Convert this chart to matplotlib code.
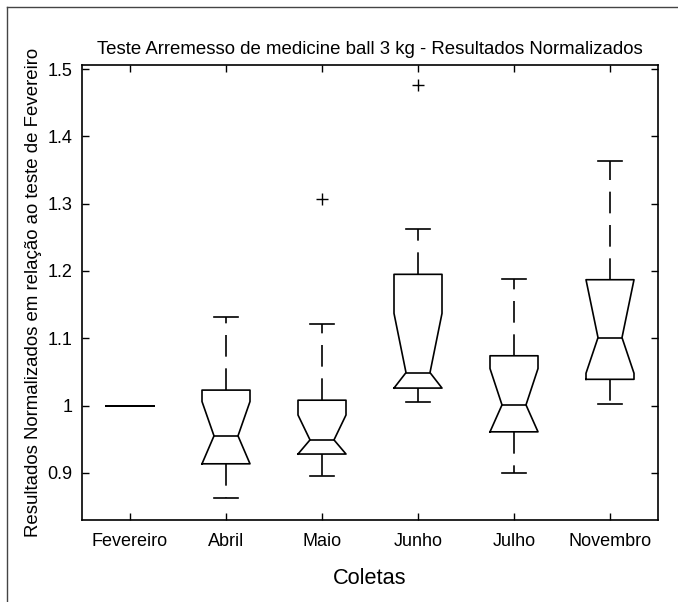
import matplotlib
matplotlib.use("Agg")
import matplotlib.pyplot as plt
from matplotlib.lines import Line2D

plt.rcParams['font.family'] = ['Liberation Sans', 'DejaVu Sans']

categories = ['Fevereiro', 'Abril', 'Maio', 'Junho', 'Julho', 'Novembro']
medians = [1.0, 0.955, 0.949, 1.049, 1.001, 1.101]
q1_vals = [1.0, 0.9135, 0.928, 1.026, 0.961, 1.039]
q3_vals = [1.0, 1.023, 1.008, 1.195, 1.074, 1.187]
whisker_lo = [1.0, 0.863, 0.896, 1.006, 0.900, 1.003]
whisker_hi = [1.0, 1.131, 1.121, 1.262, 1.1875, 1.363]
notch_lo = [1.0, 0.9135, 0.928, 1.026, 0.961, 1.048]
notch_hi = [1.0, 1.006, 0.986, 1.137, 1.055, 1.187]
outliers = [[], [], [1.307], [1.476], [], []]
ytick_vals = [0.9, 1.0, 1.1, 1.2, 1.3, 1.4, 1.5]
ytick_labels = ['0.9', '1', '1.1', '1.2', '1.3', '1.4', '1.5']

stats = []
for i, name in enumerate(categories):
    stats.append(dict(label=name, med=medians[i], q1=q1_vals[i], q3=q3_vals[i],
                      whislo=whisker_lo[i], whishi=whisker_hi[i],
                      cilo=notch_lo[i], cihi=notch_hi[i], fliers=outliers[i]))

fig = plt.figure(figsize=(6.78, 6.02), dpi=100)
ax = fig.add_axes([82/678, 1 - 520/602, (658-82)/678, (520-65)/602])

lw = 1.2
ax.bxp(stats, positions=range(1, 7), widths=0.5, shownotches=True,
       boxprops=dict(color='black', linewidth=lw),
       medianprops=dict(color='black', linewidth=lw),
       whiskerprops=dict(color='black', linewidth=lw, linestyle=(0, (13, 7))),
       capprops=dict(color='black', linewidth=lw),
       flierprops=dict(marker='+', markeredgecolor='black', markersize=9,
                       markeredgewidth=1.0, linestyle='none'))

ax.set_xlim(0.5, 6.5)
ax.set_ylim(0.83, 1.506)
ax.set_xticks(range(1, 7))
ax.set_xticklabels(categories, fontsize=13)
ax.set_yticks(ytick_vals)
ax.set_yticklabels(ytick_labels, fontsize=13)
ax.tick_params(direction='in', length=5, width=1.0, top=True, right=True, pad=7)
ax.tick_params(axis='x', pad=9)
for s in ax.spines.values():
    s.set_linewidth(1.2)

ax.set_title('Teste Arremesso de medicine ball 3 kg - Resultados Normalizados',
             fontsize=13.4, pad=8)
ax.set_xlabel('Coletas', fontsize=15.7, labelpad=13)
ax.set_ylabel('Resultados Normalizados em relação ao teste de Fevereiro', fontsize=13.4,
              labelpad=4)

# outer frame (top and left edges visible)
fig.add_artist(Line2D([7/678, 7/678], [0, 1 - 7/602], transform=fig.transFigure,
                      color='#444444', linewidth=1.0))
fig.add_artist(Line2D([7/678, 1], [1 - 7/602, 1 - 7/602], transform=fig.transFigure,
                      color='#444444', linewidth=1.0))

fig.savefig('out.png', dpi=100)
